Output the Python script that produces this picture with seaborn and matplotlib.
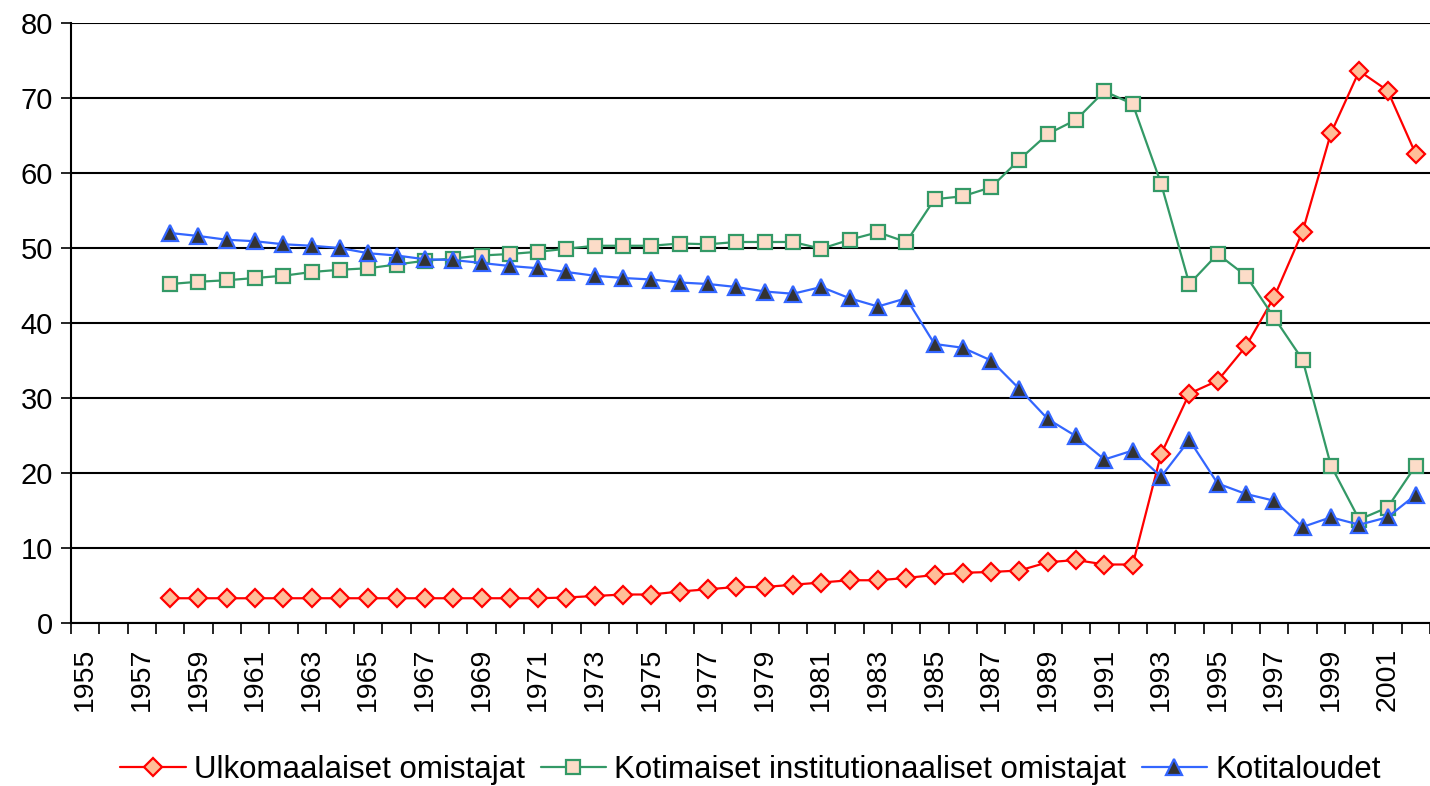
import numpy as np
import pandas as pd
import seaborn as sns
import matplotlib.pyplot as plt
from matplotlib.ticker import FixedLocator

# Data
years = list(range(1958, 2003))

ulkomaalaiset = [3.3, 3.3, 3.3, 3.3, 3.3, 3.3, 3.3, 3.3, 3.3, 3.3,
                 3.3, 3.3, 3.3, 3.3, 3.4, 3.6, 3.8, 3.8, 4.2, 4.5,
                 4.8, 4.8, 5.1, 5.4, 5.7, 5.7, 6.0, 6.4, 6.7, 6.8,
                 7.0, 8.1, 8.4, 7.8, 7.8, 22.5, 30.6, 32.3, 36.9, 43.5,
                 52.2, 65.3, 73.6, 71.0, 62.5]

kotimaiset = [45.2, 45.5, 45.7, 46.0, 46.3, 46.8, 47.1, 47.3, 47.8, 48.3,
              48.6, 49.0, 49.2, 49.5, 49.9, 50.3, 50.3, 50.3, 50.6, 50.5,
              50.8, 50.8, 50.8, 49.9, 51.1, 52.1, 50.8, 56.5, 56.9, 58.1,
              61.8, 65.2, 67.1, 70.9, 69.2, 58.6, 45.2, 49.2, 46.3, 40.7,
              35.1, 21.0, 13.8, 15.4, 21.0]

kotitaloudet = [52.0, 51.6, 51.1, 50.9, 50.5, 50.3, 50.0, 49.3, 49.0, 48.5,
                48.4, 48.0, 47.6, 47.3, 46.8, 46.3, 46.0, 45.8, 45.4, 45.2,
                44.8, 44.2, 43.9, 44.8, 43.3, 42.2, 43.3, 37.2, 36.7, 35.0,
                31.2, 27.2, 24.9, 21.8, 23.0, 19.5, 24.4, 18.6, 17.2, 16.3,
                12.8, 14.1, 13.1, 14.1, 17.1]

labels = ["Ulkomaalaiset omistajat",
          "Kotimaiset institutionaaliset omistajat",
          "Kotitaloudet"]

df = pd.DataFrame({"year": years,
                   labels[0]: ulkomaalaiset,
                   labels[1]: kotimaiset,
                   labels[2]: kotitaloudet})

sns.set_style("white")
plt.rcParams['font.family'] = ['Liberation Sans', 'DejaVu Sans']
plt.rcParams['text.color'] = 'black'
plt.rcParams['xtick.color'] = 'black'
plt.rcParams['ytick.color'] = 'black'

fig = plt.figure(figsize=(14.3, 7.86), dpi=100)
ax = fig.add_axes([71 / 1430, 1 - 623 / 786, (1430 - 71) / 1430, 600 / 786])

styles = [
    dict(color="#FF0000", marker="D", markerfacecolor="#FFBE98", markeredgecolor="#FF0000", markersize=9.5),
    dict(color="#339966", marker="s", markerfacecolor="#FCDCC8", markeredgecolor="#339966", markersize=10),
    dict(color="#3366FF", marker="^", markerfacecolor="#333333", markeredgecolor="#3366FF", markersize=11.5),
]

for lab, st in zip(labels, styles):
    sns.lineplot(data=df, x="year", y=lab, ax=ax, label=lab,
                 linewidth=1.6, markeredgewidth=1.6, **st)

ax.set_xlim(1954.5, 2002.5)
ax.set_ylim(0, 80)
ax.set_yticks(range(0, 81, 10))
ax.set_xticks(range(1955, 2002, 2))
ax.set_xticklabels([str(y) for y in range(1955, 2002, 2)], rotation=90)
ax.xaxis.set_minor_locator(FixedLocator(np.arange(1954.5, 2003, 1)))
ax.tick_params(axis="x", which="major", length=0, labelsize=20.5, pad=18, labelcolor="black")
ax.tick_params(axis="x", which="minor", length=8, width=1.2, color="black", direction="out", bottom=True)
ax.tick_params(axis="y", length=7, width=1.2, color="black", direction="out", left=True,
               labelsize=21, pad=6, labelcolor="black")

ax.grid(axis="y", color="black", linewidth=1.5)
ax.set_axisbelow(True)
for side in ["top", "right"]:
    ax.spines[side].set_visible(False)
for side in ["left", "bottom"]:
    ax.spines[side].set_color("black")
    ax.spines[side].set_linewidth(1.5)

ax.set_xlabel("")
ax.set_ylabel("")

ax.legend(loc="center", bbox_to_anchor=(0.5, -0.245), ncol=3,
          frameon=False, fontsize=22.5, handlelength=2.1, handletextpad=0.25,
          columnspacing=0.5, labelcolor="black")

fig.savefig("out.png", dpi=100)
